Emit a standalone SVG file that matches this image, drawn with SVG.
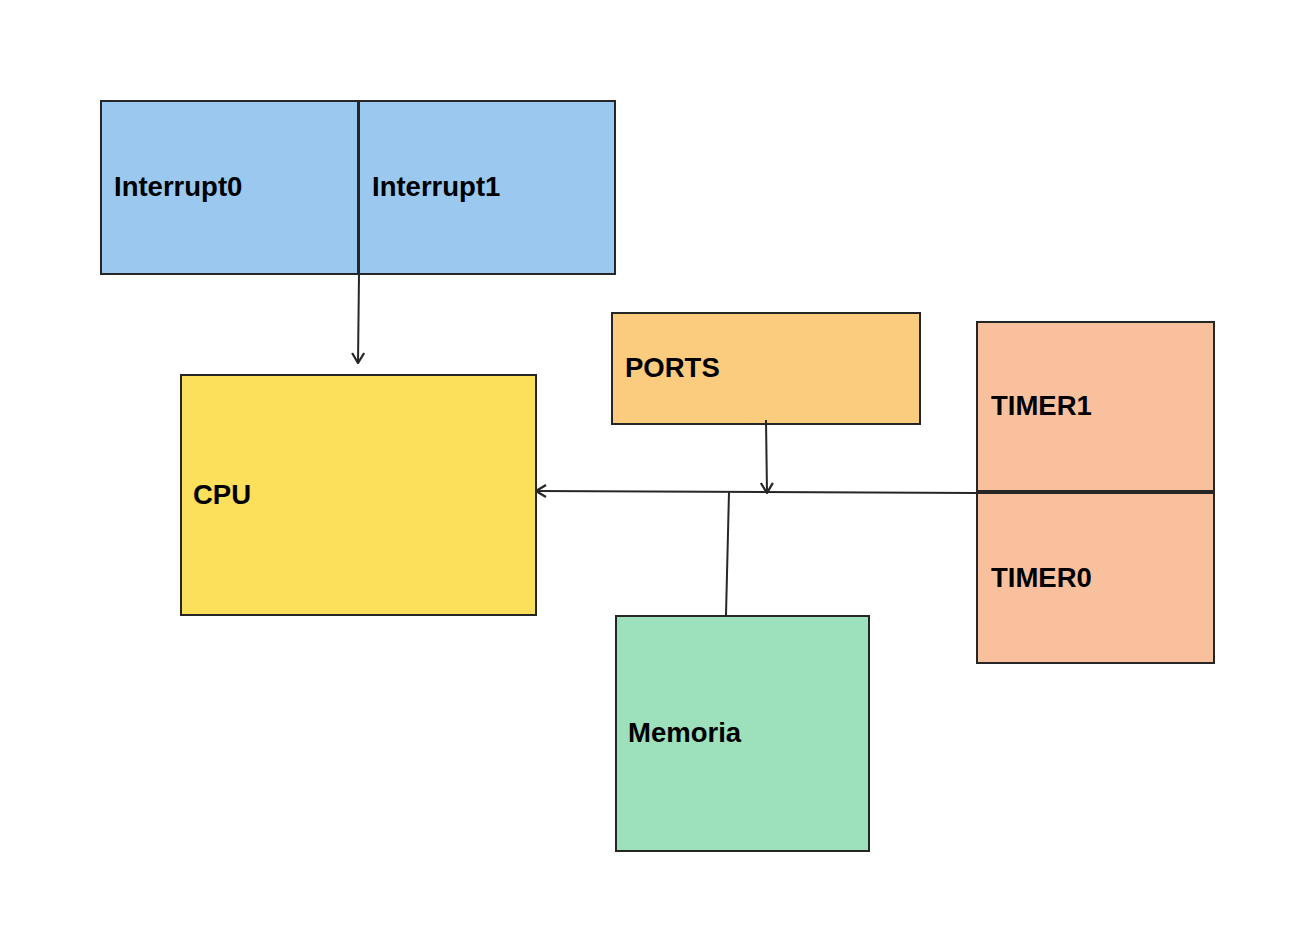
<svg xmlns="http://www.w3.org/2000/svg" width="1316" height="952" viewBox="0 0 1316 952">
<defs>
<style>
.box{stroke:#262626;stroke-width:2}
.lbl{font-family:"Liberation Sans",Arial,sans-serif;font-weight:bold;font-size:27.5px;fill:#000}
.con{stroke:#262626;stroke-width:2;fill:none}
</style>
<marker id="arr" viewBox="0 0 12 14" refX="11" refY="7" markerWidth="12" markerHeight="14" markerUnits="userSpaceOnUse" orient="auto">
<path d="M1,1 L11,7 L1,13" fill="none" stroke="#262626" stroke-width="2.2"/>
</marker>
</defs>
<rect width="1316" height="952" fill="#fff"/>
<g id="interrupt0"><rect class="box" x="101" y="101" width="257" height="173" fill="#9AC8EE"/><text class="lbl" x="114" y="196">Interrupt0</text></g>
<g id="interrupt1"><rect class="box" x="359" y="101" width="256" height="173" fill="#9AC8EE"/><text class="lbl" x="372" y="196">Interrupt1</text></g>
<g id="cpu"><rect class="box" x="181" y="375" width="355" height="240" fill="#FCDF5A"/><text class="lbl" x="193" y="504">CPU</text></g>
<g id="ports"><rect class="box" x="612" y="313" width="308" height="111" fill="#FCCC7E"/><text class="lbl" x="625" y="377">PORTS</text></g>
<g id="timer1"><rect class="box" x="977" y="322" width="237" height="169" fill="#F9C09E"/><text class="lbl" x="991" y="415">TIMER1</text></g>
<g id="timer0"><rect class="box" x="977" y="493" width="237" height="170" fill="#F9C09E"/><text class="lbl" x="991" y="587">TIMER0</text></g>
<g id="memoria"><rect class="box" x="616" y="616" width="253" height="235" fill="#9DE0BC"/><text class="lbl" x="628" y="742">Memoria</text></g>
<g id="connectors">
<path class="con" d="M359,274 L358,363" marker-end="url(#arr)"/>
<path class="con" d="M977,493 L536,491" marker-end="url(#arr)"/>
<path class="con" d="M766,420 L767,493" marker-end="url(#arr)"/>
<path class="con" d="M729,492 L726,615"/>
</g>
</svg>
